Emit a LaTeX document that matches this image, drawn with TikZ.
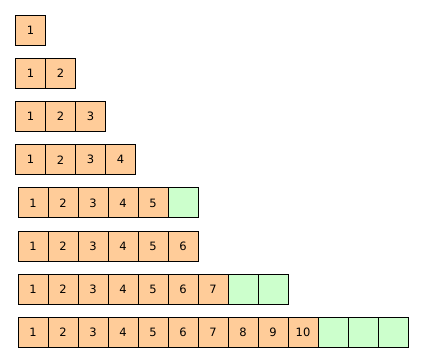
\documentclass[tikz,border=0pt]{standalone}
\usepackage{fontspec}
\setmainfont{DejaVu Sans}
\definecolor{cellorange}{HTML}{FFCC99}
\definecolor{cellgreen}{HTML}{CCFFCC}
\begin{document}
\begin{tikzpicture}[x=1pt,y=-1pt,
  cell/.style={draw=black,line width=1pt,minimum width=30pt,minimum height=30pt,inner sep=0pt,anchor=north west,font=\fontsize{11.5}{13}\selectfont},
  used/.style={cell,fill=cellorange},
  spare/.style={cell,fill=cellgreen}]
\useasboundingbox (0,0) rectangle (423,362);
% rows 1-4
\foreach \r in {1,...,4}{
  \foreach \c in {1,...,\r}{
    \node[used] (r\r c\c) at ({15+30*(\c-1)},{15+43.1*(\r-1)}) {\c};
  }
}
% row 5: 5 used, 1 spare
\foreach \c in {1,...,5}{
  \node[used] (r5c\c) at ({17.5+30*(\c-1)},187.4) {\c};
}
\node[spare] (r5c6) at ({17.5+30*5},187.4) {};
% row 6
\foreach \c in {1,...,6}{
  \node[used] (r6c\c) at ({17.5+30*(\c-1)},230.6) {\c};
}
% row 7: 7 used, 2 spare
\foreach \c in {1,...,7}{
  \node[used] (r7c\c) at ({17.5+30*(\c-1)},273.5) {\c};
}
\foreach \c in {8,9}{
  \node[spare] (r7c\c) at ({17.5+30*(\c-1)},273.5) {};
}
% row 8: 10 used, 3 spare
\foreach \c in {1,...,10}{
  \node[used] (r8c\c) at ({17.5+30*(\c-1)},316.7) {\c};
}
\foreach \c in {11,12,13}{
  \node[spare] (r8c\c) at ({17.5+30*(\c-1)},316.7) {};
}
\end{tikzpicture}
\end{document}
